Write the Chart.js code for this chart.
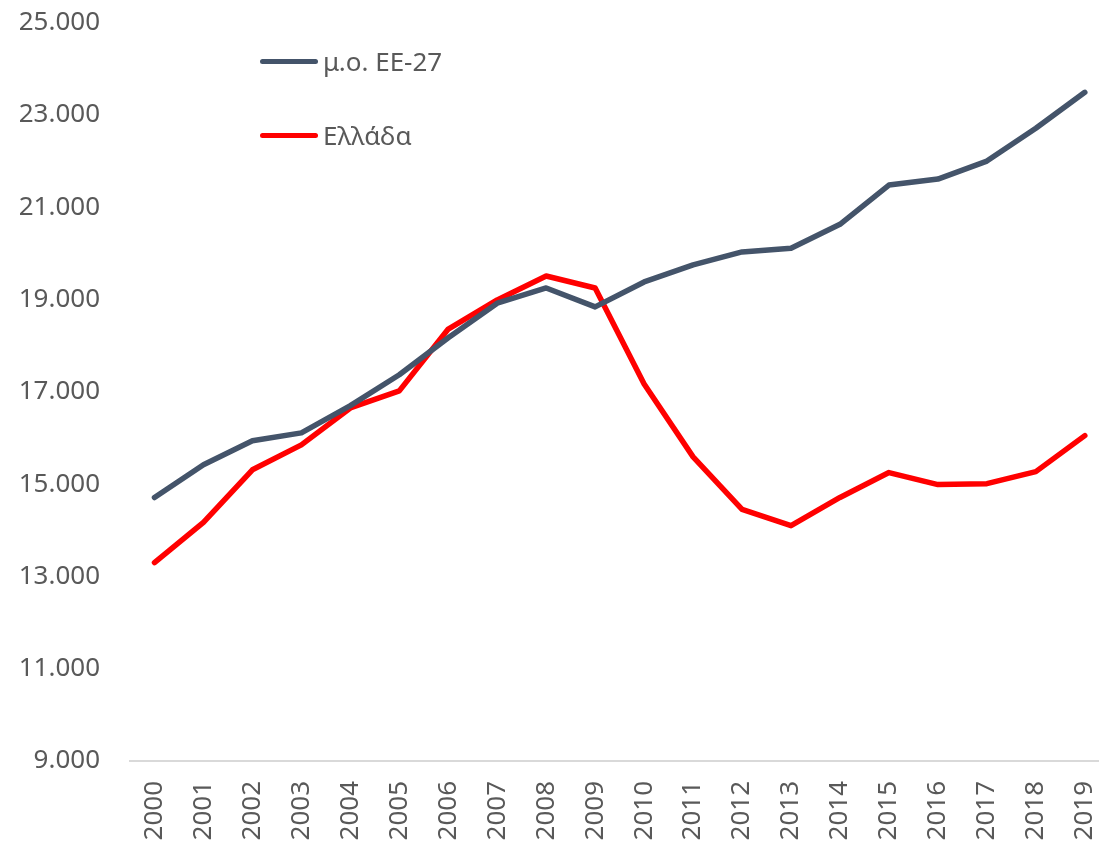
<!DOCTYPE html>
<html>
<head>
<meta charset="utf-8">
<script src="https://cdn.jsdelivr.net/npm/chart.js@4.4.1/dist/chart.umd.min.js"></script>
<style>
  html, body { margin: 0; padding: 0; background: #fff; overflow: hidden; }
  #page { position: relative; width: 1099px; height: 845px; overflow: hidden; }
  #wrap { position: absolute; left: 0; top: -23px; width: 1136px; height: 868px; }
  #legend { position: absolute; left: 260px; top: 42px; font-family: "Noto Sans", sans-serif; font-size: 26px; color: #595959; }
  .item { display: flex; align-items: center; height: 38px; margin-bottom: 36px; }
  .swatch { width: 58px; height: 5px; border-radius: 3px; margin-right: 5px; }
</style>
</head>
<body>
<div id="page">
  <div id="wrap"><canvas id="chart"></canvas></div>
  <div id="legend"></div>
</div>
<script>
const years = ['2000', '2001', '2002', '2003', '2004', '2005', '2006', '2007', '2008', '2009',
               '2010', '2011', '2012', '2013', '2014', '2015', '2016', '2017', '2018', '2019'];
const euAvg = [14710, 15420, 15940, 16110, 16700, 17370, 18170, 18920, 19250, 18840,
               19380, 19750, 20030, 20110, 20630, 21480, 21610, 22000, 22710, 23490];
const greece = [13300, 14170, 15310, 15850, 16650, 17020, 18360, 18990, 19510, 19250,
                17170, 15590, 14450, 14100, 14710, 15250, 14990, 15010, 15270, 16050];
const yTicks = [9000, 11000, 13000, 15000, 17000, 19000, 21000, 23000, 25000];

const textColor = '#595959';
const font = { family: '"Noto Sans", sans-serif', size: 26 };

// thousands with a dot, e.g. 25.000
function fmt(v) {
    return String(v).replace(/\B(?=(\d{3})+(?!\d))/g, '.');
}

const ctx = document.getElementById('chart').getContext('2d');
const chart = new Chart(ctx, {
    type: 'line',
    data: {
        labels: years,
        datasets: [
            { label: 'μ.ο. ΕΕ-27', data: euAvg, borderColor: '#44546A', backgroundColor: '#44546A' },
            { label: 'Ελλάδα', data: greece, borderColor: '#FF0000', backgroundColor: '#FF0000' }
        ]
    },
    options: {
        responsive: true,
        maintainAspectRatio: false,
        animation: false,
        layout: { padding: 0 },
        elements: {
            line: { borderWidth: 5.5, tension: 0, borderCapStyle: 'round', borderJoinStyle: 'round' },
            point: { radius: 0, hoverRadius: 0 }
        },
        scales: {
            x: {
                offset: true,
                grid: { display: false, drawTicks: false },
                border: { display: true, color: '#D9D9D9', width: 2 },
                ticks: { color: textColor, font: font, minRotation: 90, maxRotation: 90, padding: 20, autoSkip: false },
                afterFit: function(scale) { scale.height = 84; }
            },
            y: {
                min: 9000,
                max: 25000,
                grid: { display: false, drawTicks: false },
                border: { display: false },
                afterBuildTicks: function(scale) { scale.ticks = yTicks.map(v => ({ value: v })); },
                ticks: { color: textColor, font: font, padding: 30, callback: v => fmt(v) },
                afterFit: function(scale) { scale.width = 130; }
            }
        },
        plugins: {
            legend: { display: false },
            tooltip: { enabled: false }
        }
    }
});

// html legend inside the plot
const legendBox = document.getElementById('legend');
chart.data.datasets.forEach(ds => {
    const item = document.createElement('div');
    item.className = 'item';
    const sw = document.createElement('span');
    sw.className = 'swatch';
    sw.style.background = ds.borderColor;
    const txt = document.createElement('span');
    txt.textContent = ds.label;
    item.appendChild(sw);
    item.appendChild(txt);
    legendBox.appendChild(item);
});
</script>
</body>
</html>
